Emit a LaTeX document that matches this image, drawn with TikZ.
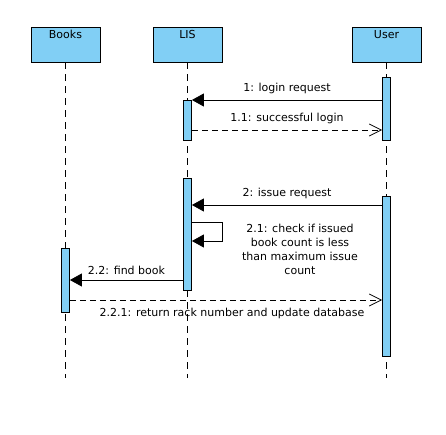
\documentclass[tikz,border=0pt]{standalone}
\usepackage{fontspec}
\setmainfont{DejaVu Sans}
\usepackage{tikz}
\usetikzlibrary{arrows.meta,positioning}
\definecolor{barblue}{RGB}{129,207,245}

\tikzset{
  obj/.style={draw,fill=barblue,minimum width=69pt,minimum height=35pt,inner sep=0pt},
  act/.style={draw,fill=barblue,minimum width=8pt,inner sep=0pt},
  life/.style={dash pattern=on 7pt off 5pt},
  call/.style={-{Triangle[length=12pt,width=13pt]}},
  reply/.style={dash pattern=on 6pt off 4pt,-{Straight Barb[length=12pt,width=12pt]}},
  msg/.style={font=\fontsize{11}{14}\selectfont}
}

\begin{document}
\begin{tikzpicture}[x=1pt,y=-1pt,line width=0.8pt]
  \useasboundingbox (0,0) rectangle (446,435);

  % objects
  \node[obj,label={[anchor=north,inner sep=3pt,msg]north:Books}] (books) at (65.5,44.5) {};
  \node[obj,label={[anchor=north,inner sep=3pt,msg]north:LIS}]   (lis)   at (187.5,44.5) {};
  \node[obj,label={[anchor=north,inner sep=3pt,msg]north:User}]  (user)  at (386.5,44.5) {};

  % lifelines
  \coordinate (booksEnd) at (65.5,378);
  \coordinate (lisEnd)   at (187.5,378);
  \coordinate (userEnd)  at (386.5,378);
  \draw[life] (books) -- (booksEnd);
  \draw[life] (lis) -- (lisEnd);
  \draw[life] (user) -- (userEnd);

  % activations
  \node[act,minimum height=63pt]  (userA)  at (386.5,108.5) {};
  \node[act,minimum height=40pt]  (lisA)   at (187.5,120) {};
  \node[act,minimum height=112pt] (lisB)   at (187.5,234) {};
  \node[act,minimum height=160pt] (userB)  at (386.5,276) {};
  \node[act,minimum height=64pt]  (booksA) at (65.5,280) {};

  % message rows
  \coordinate (m1)  at (0,100);
  \coordinate (m11) at (0,130);
  \coordinate (m2)  at (0,205);
  \coordinate (m21) at (0,222);
  \coordinate (m21b) at (0,241);
  \coordinate (m22) at (0,280);
  \coordinate (m221) at (0,300);
  \coordinate (loop) at (222,0);

  \draw[call] (userA.west |- m1) -- node[msg,above=2pt] {1: login request} (lisA.east |- m1);
  \draw[reply] (lisA.east |- m11) -- node[msg,above=2pt] {1.1: successful login} (userA.west |- m11);
  \draw[call] (userB.west |- m2) -- node[msg,above=2pt] {2: issue request} (lisB.east |- m2);
  \draw[call] (lisB.east |- m21) -- (loop |- m21) -- (loop |- m21b) -- (lisB.east |- m21b);
  \node[msg,align=center] (selfTxt) at (300,249) {2.1: check if issued\\book count is less\\than maximum issue\\count};
  \draw[call] (lisB.west |- m22) -- node[msg,above=2pt] {2.2: find book} (booksA.east |- m22);
  \draw[reply] (booksA.east |- m221) -- node[msg,below=4pt,xshift=6pt] {2.2.1: return rack number and update database} (userB.west |- m221);
\end{tikzpicture}
\end{document}
